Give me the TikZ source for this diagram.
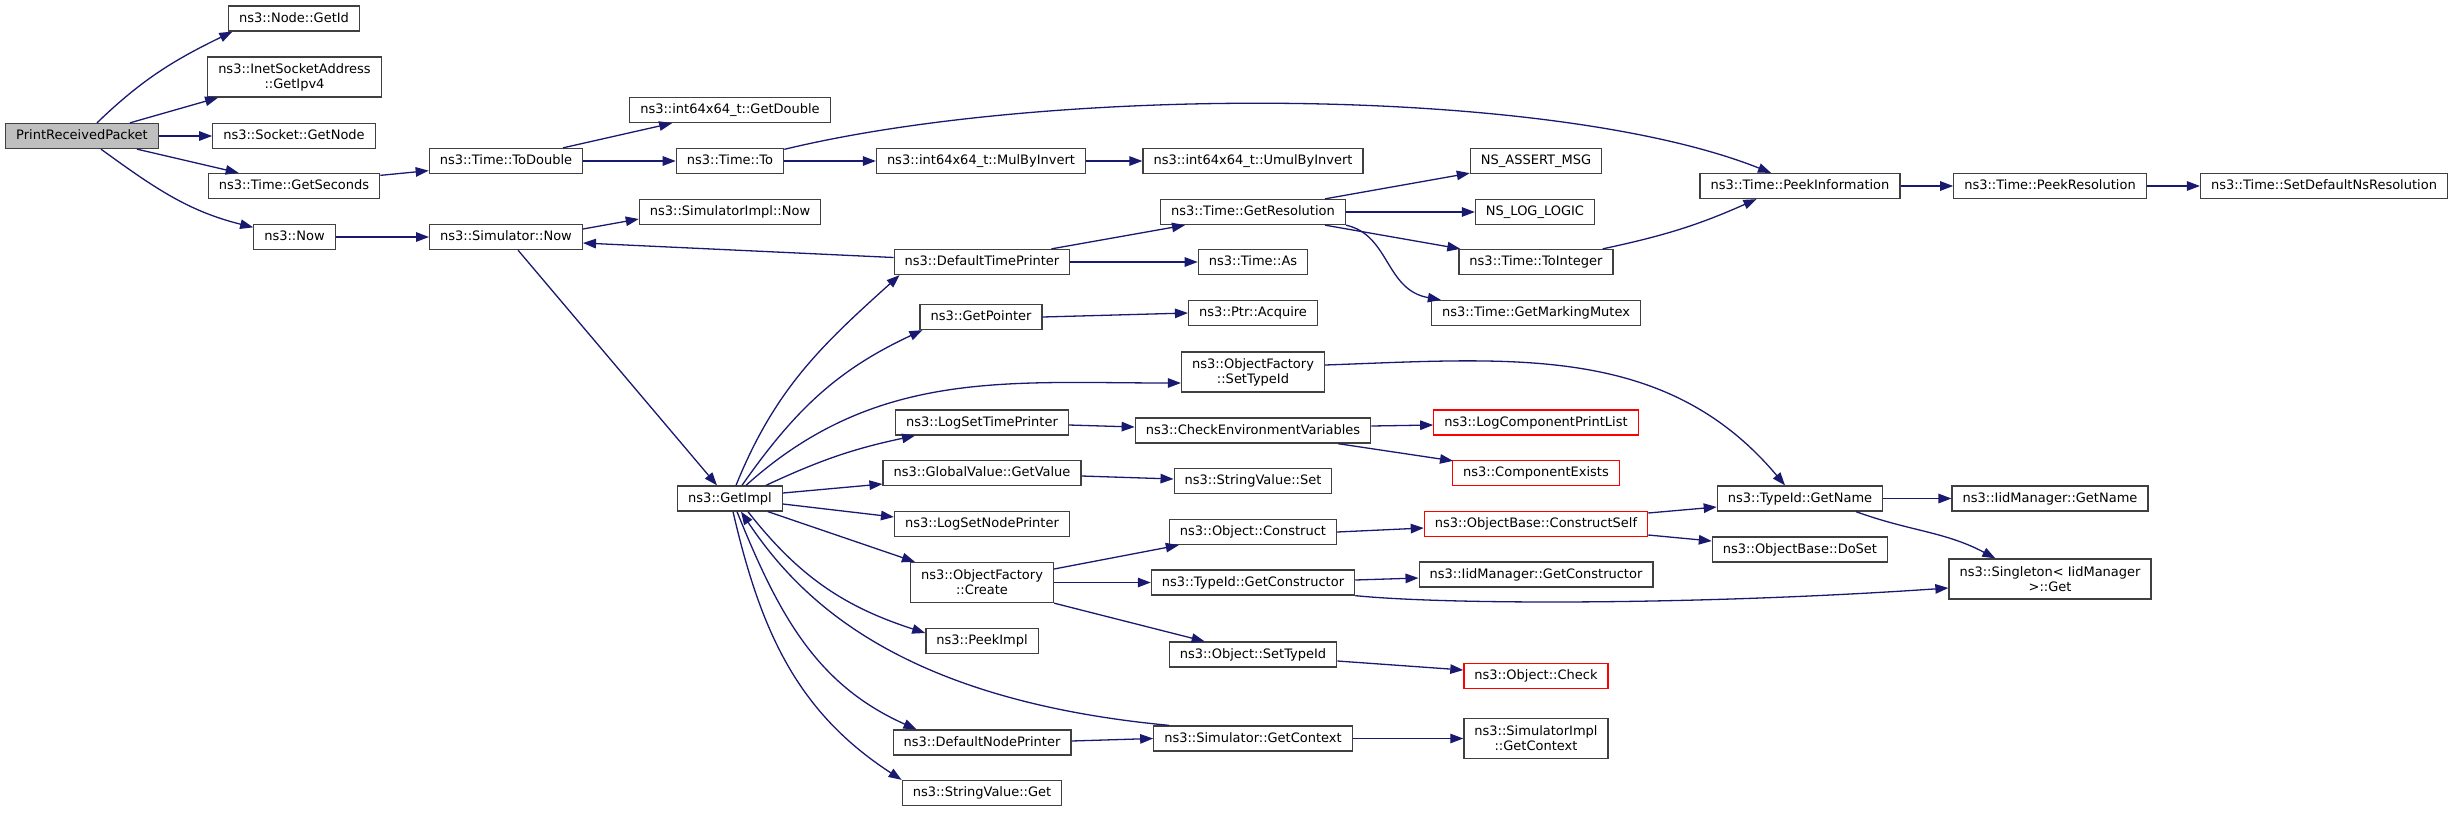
\documentclass[tikz,border=0pt]{standalone}
\usepackage{fontspec}
\setmainfont{DejaVu Sans}
\usetikzlibrary{arrows.meta}
\definecolor{edgeblue}{HTML}{191970}
\definecolor{nodeborder}{HTML}{404040}
\definecolor{rootfill}{HTML}{BFBFBF}
\definecolor{truncred}{HTML}{FF0000}
\begin{document}
\begin{tikzpicture}[x=1pt,y=1pt,
  nbox/.style={draw=nodeborder, line width=1.3pt, fill=white, inner xsep=10.5pt, inner ysep=0pt,
    minimum height=25pt, text height=10pt, text depth=3pt, font=\fontsize{13}{15}\selectfont},
  nbox2/.style={draw=nodeborder, line width=1.3pt, fill=white, inner xsep=10.5pt, inner ysep=0pt,
    minimum height=40pt, align=center, font=\fontsize{13}{15}\selectfont},
  rootnode/.style={fill=rootfill},
  truncnode/.style={draw=truncred},
  cg/.style={draw=edgeblue, line width=1.3pt, -{Triangle[length=13pt,width=9.5pt]}},
]
\useasboundingbox (0,0) rectangle (2453,-812);
% rank 1
\node[nbox,rootnode] (prp) at (82,-136) {PrintReceivedPacket};
% rank 2
\node[nbox] (getid) at (294,-18.5) {ns3::Node::GetId};
\node[nbox2] (inet) at (294.5,-77) {ns3::InetSocketAddress\\::GetIpv4};
\node[nbox] (sockgetnode) at (294,-136) {ns3::Socket::GetNode};
\node[nbox] (getseconds) at (294,-186) {ns3::Time::GetSeconds};
\node[nbox] (now) at (294.5,-237) {ns3::Now};
% rank 3
\node[nbox] (todouble) at (506,-161) {ns3::Time::ToDouble};
\node[nbox] (simnow) at (506,-237) {ns3::Simulator::Now};
% rank 4
\node[nbox] (getdouble) at (730,-110) {ns3::int64x64\_t::GetDouble};
\node[nbox] (timeto) at (730,-161) {ns3::Time::To};
\node[nbox] (simimplnow) at (730,-212) {ns3::SimulatorImpl::Now};
\node[nbox] (getimpl) at (730,-498.5) {ns3::GetImpl};
% rank 5
\node[nbox] (mulbyinv) at (981,-161) {ns3::int64x64\_t::MulByInvert};
\node[nbox] (dtp) at (982,-262) {ns3::DefaultTimePrinter};
\node[nbox] (getpointer) at (981,-317) {ns3::GetPointer};
\node[nbox] (logsettp) at (982,-422.5) {ns3::LogSetTimePrinter};
\node[nbox] (gvgetvalue) at (982,-473) {ns3::GlobalValue::GetValue};
\node[nbox] (logsetnp) at (982,-524) {ns3::LogSetNodePrinter};
\node[nbox2] (ofcreate) at (982,-582.5) {ns3::ObjectFactory\\::Create};
\node[nbox] (peekimpl) at (982,-641) {ns3::PeekImpl};
\node[nbox] (dnp) at (982,-742.5) {ns3::DefaultNodePrinter};
\node[nbox] (svget) at (982,-793) {ns3::StringValue::Get};
% rank 6
\node[nbox] (umulbyinv) at (1253,-161) {ns3::int64x64\_t::UmulByInvert};
\node[nbox] (getres) at (1253,-212) {ns3::Time::GetResolution};
\node[nbox] (timeas) at (1253,-262) {ns3::Time::As};
\node[nbox] (ptracq) at (1253,-313) {ns3::Ptr::Acquire};
\node[nbox2] (ofsettypeid) at (1253,-372) {ns3::ObjectFactory\\::SetTypeId};
\node[nbox] (checkenv) at (1253,-430.5) {ns3::CheckEnvironmentVariables};
\node[nbox] (svset) at (1253,-481) {ns3::StringValue::Set};
\node[nbox] (objconstruct) at (1253,-532) {ns3::Object::Construct};
\node[nbox] (getctor) at (1253,-582.5) {ns3::TypeId::GetConstructor};
\node[nbox] (objsettypeid) at (1253,-654.5) {ns3::Object::SetTypeId};
\node[nbox] (simgetctx) at (1253,-738.5) {ns3::Simulator::GetContext};
% rank 7
\node[nbox] (nsassert) at (1536,-161) {NS\_ASSERT\_MSG};
\node[nbox] (nsloglogic) at (1535,-212) {NS\_LOG\_LOGIC};
\node[nbox] (tointeger) at (1536,-262) {ns3::Time::ToInteger};
\node[nbox] (getmarking) at (1536,-313) {ns3::Time::GetMarkingMutex};
\node[nbox,truncnode] (logcpl) at (1536,-422.5) {ns3::LogComponentPrintList};
\node[nbox,truncnode] (compexists) at (1536,-473) {ns3::ComponentExists};
\node[nbox,truncnode] (constructself) at (1536,-524) {ns3::ObjectBase::ConstructSelf};
\node[nbox] (iidgetctor) at (1536,-574.5) {ns3::IidManager::GetConstructor};
\node[nbox,truncnode] (objcheck) at (1536,-676) {ns3::Object::Check};
\node[nbox2] (simimplgetctx) at (1536,-738.5) {ns3::SimulatorImpl\\::GetContext};
% rank 8
\node[nbox] (peekinfo) at (1800,-186) {ns3::Time::PeekInformation};
\node[nbox] (typeidgetname) at (1800,-498.5) {ns3::TypeId::GetName};
\node[nbox] (dosetset) at (1800,-549.5) {ns3::ObjectBase::DoSet};
% rank 9
\node[nbox] (peekres) at (2050,-186) {ns3::Time::PeekResolution};
\node[nbox] (iidgetname) at (2050,-498.5) {ns3::IidManager::GetName};
\node[nbox2] (singleton) at (2050,-579) {ns3::Singleton< IidManager\\>::Get};
% rank 10
\node[nbox] (setdefault) at (2324,-186) {ns3::Time::SetDefaultNsResolution};

% edges
\draw[cg] ([xshift=15]prp.north) to[out=44,in=206] ([xshift=4.5]getid.south west);
\draw[cg] ([xshift=48]prp.north) -- ([xshift=11]inet.south west);
\draw[cg] (prp.east) -- (sockgetnode.west);
\draw[cg] ([xshift=55]prp.south) -- ([xshift=31]getseconds.north west);
\draw[cg] ([xshift=19]prp.south) to[out=-36,in=166] ([yshift=-3.5]now.north west);
\draw[cg] ([yshift=-2.5]getseconds.north east) -- ([yshift=3.5]todouble.south west);
\draw[cg] (now.east) -- (simnow.west);
\draw[cg] ([xshift=57]todouble.north) -- ([xshift=43]getdouble.south west);
\draw[cg] (todouble.east) -- (timeto.west);
\draw[cg] (timeto.east) -- (mulbyinv.west);
\draw[cg] ([yshift=-1.5]timeto.north east) .. controls (1050,-85) and (1550,-85) .. ([xshift=-29]peekinfo.north);
\draw[cg] (mulbyinv.east) -- (umulbyinv.west);
\draw[cg] ([yshift=8]simnow.east) -- ([yshift=-7]simimplnow.west);
\draw[cg] ([yshift=4.5]dtp.west) -- ([yshift=-6]simnow.east);
\draw[cg] ([xshift=12]simnow.south) -- ([xshift=-13]getimpl.north);
\draw[cg] ([xshift=-19]dtp.north east) -- ([xshift=25]getres.south west);
\draw[cg] (dtp.east) -- (timeas.west);
\draw[cg] ([xshift=-21]getres.north east) -- ([yshift=1]nsassert.south west);
\draw[cg] (getres.east) -- (nsloglogic.west);
\draw[cg] ([xshift=-21]getres.south east) -- ([xshift=2]tointeger.north west);
\draw[cg] (getres.south east) .. controls (1390,-235) and (1385,-290) .. ([xshift=10]getmarking.north west);
\draw[cg] ([xshift=-11]tointeger.north east) to[out=12,in=204] ([xshift=57]peekinfo.south west);
\draw[cg] (peekinfo.east) -- (peekres.west);
\draw[cg] (peekres.east) -- (setdefault.west);
\draw[cg] ([xshift=6]getimpl.north) to[out=68,in=222] ([xshift=6]dtp.south west);
\draw[cg] ([xshift=12]getimpl.north) to[out=55,in=205] ([xshift=3]getpointer.south west);
\draw[cg] (getpointer.east) -- (ptracq.west);
\draw[cg] ([xshift=16]getimpl.north) to[out=42,in=180] ([yshift=-11]ofsettypeid.west);
\draw[cg] ([yshift=7]ofsettypeid.east) to[out=2,in=130] ([xshift=-15]typeidgetname.north);
\draw[cg] ([xshift=-17]getimpl.north east) to[out=25,in=192] ([xshift=20]logsettp.south west);
\draw[cg] ([yshift=-2.5]logsettp.east) -- ([yshift=3.5]checkenv.west);
\draw[cg] ([yshift=4.5]checkenv.east) -- ([yshift=-2.5]logcpl.west);
\draw[cg] ([xshift=85]checkenv.south) -- ([xshift=1,yshift=-1]compexists.north west);
\draw[cg] ([yshift=5.5]getimpl.east) -- ([yshift=-11]gvgetvalue.west);
\draw[cg] ([yshift=-3]gvgetvalue.east) -- ([yshift=2]svset.west);
\draw[cg] ([yshift=-5.5]getimpl.east) -- ([yshift=7]logsetnp.west);
\draw[cg] ([xshift=-15]getimpl.south east) -- ([xshift=5]ofcreate.north west);
\draw[cg] ([yshift=13.5]ofcreate.east) -- ([xshift=10]objconstruct.south west);
\draw[cg] (ofcreate.east) -- (getctor.west);
\draw[cg] (ofcreate.south east) -- ([xshift=36]objsettypeid.north west);
\draw[cg] (objconstruct.east) -- ([yshift=-4]constructself.west);
\draw[cg] ([yshift=11]constructself.east) -- ([yshift=-8.5]typeidgetname.west);
\draw[cg] ([yshift=-11]constructself.east) -- ([yshift=8.5]dosetset.west);
\draw[cg] (typeidgetname.east) -- (iidgetname.west);
\draw[cg] ([xshift=56]typeidgetname.south) to[out=-20,in=152] ([xshift=47]singleton.north west);
\draw[cg] ([yshift=2.5]getctor.east) -- ([yshift=-3.5]iidgetctor.west);
\draw[cg] (getctor.south east) .. controls (1450,-605) and (1700,-605) .. ([yshift=-9]singleton.west);
\draw[cg] ([yshift=-6.5]objsettypeid.east) -- ([yshift=6]objcheck.west);
\draw[cg] ([xshift=18]getimpl.south) to[out=-52,in=162] ([yshift=8]peekimpl.west);
\draw[cg] ([xshift=7]getimpl.south) to[out=-68,in=156] ([xshift=24]dnp.north west);
\draw[cg] ([xshift=3]getimpl.south) to[out=-77,in=147] (svget.north west);
\draw[cg] ([xshift=16]simgetctx.north west) .. controls (900,-700) and (800,-600) .. ([xshift=11]getimpl.south);
\draw[cg] ([yshift=1.5]dnp.east) -- (simgetctx.west);
\draw[cg] (simgetctx.east) -- (simimplgetctx.west);
\end{tikzpicture}
\end{document}
